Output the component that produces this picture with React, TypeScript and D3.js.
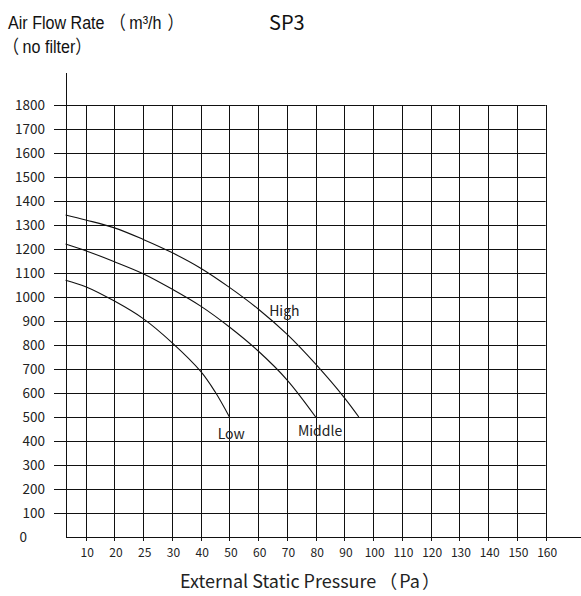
import React from "react";
import * as d3 from "d3";

const xTickLabels = [10, 20, 25, 30, 40, 50, 60, 70, 80, 90, 100, 110, 120, 130, 140, 150, 160];
const yTickValues = [0, 100, 200, 300, 400, 500, 600, 700, 800, 900, 1000, 1100, 1200, 1300, 1400, 1500, 1600, 1700, 1800];

const lowPressure = [3, 10, 20, 25, 30, 40, 45, 50];
const lowFlow = [1070, 1043, 983, 910, 810, 690, 605, 500];

const middlePressure = [3, 10, 20, 25, 30, 40, 50, 60, 70, 80];
const middleFlow = [1221, 1193, 1147, 1097, 1033, 962, 875, 775, 655, 500];

const highPressure = [3, 10, 20, 25, 30, 40, 50, 60, 70, 80, 90, 95];
const highFlow = [1342, 1321, 1288, 1240, 1185, 1120, 1040, 950, 845, 720, 580, 500];

const curveLabels = [
  { name: "High", p: 63.8, v: 921 },
  { name: "Middle", p: 73.8, v: 421 },
  { name: "Low", p: 45.9, v: 408 },
];

const W = 581;
const H = 596;
const axisX = 66;
const gridLeft = 54;
const yTop = 105;
const yBottom = 537;
const firstGridX = 85.7;
const lastGridX = 545.7;

export default function App() {
  const idx = d3.scaleLinear().domain([0, xTickLabels.length - 1]).range([firstGridX, lastGridX]);
  const x = d3
    .scaleLinear()
    .domain(xTickLabels)
    .range(xTickLabels.map((_, i) => idx(i)));
  const y = d3.scaleLinear().domain([0, 1800]).range([yBottom, yTop]);

  const line = d3
    .line<[number, number]>()
    .x((d) => x(d[0]))
    .y((d) => y(d[1]))
    .curve(d3.curveCatmullRom.alpha(0.5));

  const series = [
    { p: lowPressure, v: lowFlow },
    { p: middlePressure, v: middleFlow },
    { p: highPressure, v: highFlow },
  ];

  const tickFont = "'Noto Sans CJK SC', 'Open Sans', sans-serif";
  const narrowFont = "'Liberation Sans', Arial, 'Noto Sans CJK SC', sans-serif";
  const stroke = "#111";

  return (
    <svg
      width={W}
      height={H}
      style={{ position: "absolute", left: 0, top: 0, background: "#fff" }}
    >
      <rect x={0} y={0} width={W} height={H} fill="#fff" />
      {yTickValues
        .filter((v) => v > 0)
        .map((v) => (
          <line
            key={"h" + v}
            x1={gridLeft}
            x2={lastGridX}
            y1={Math.round(y(v)) + 0.5}
            y2={Math.round(y(v)) + 0.5}
            stroke={stroke}
            strokeWidth={1}
          />
        ))}
      {xTickLabels.map((t) => (
        <line
          key={"v" + t}
          x1={Math.round(x(t)) + 0.5}
          x2={Math.round(x(t)) + 0.5}
          y1={yTop}
          y2={yBottom + 4}
          stroke={stroke}
          strokeWidth={1}
        />
      ))}
      <line x1={axisX + 0.5} x2={axisX + 0.5} y1={73} y2={yBottom} stroke={stroke} strokeWidth={1} />
      <line x1={axisX} x2={W} y1={yBottom + 0.5} y2={yBottom + 0.5} stroke={stroke} strokeWidth={1} />

      {yTickValues.map((v) => (
        <text
          key={"yl" + v}
          x={v === 0 ? 27 : 45}
          y={y(v)}
          dy="0.35em"
          textAnchor="end"
          fontFamily={tickFont}
          fontSize={13.5}
          fill="#222"
        >
          {v}
        </text>
      ))}
      {xTickLabels.map((t) => (
        <text
          key={"xl" + t}
          x={x(t) + 1.5}
          y={557}
          textAnchor="middle"
          fontFamily={tickFont}
          fontSize={12}
          fill="#222"
        >
          {t}
        </text>
      ))}

      {series.map((s, i) => (
        <path
          key={"c" + i}
          d={line(s.p.map((p, j) => [p, s.v[j]] as [number, number])) || ""}
          fill="none"
          stroke="#111"
          strokeWidth={1.1}
        />
      ))}
      {curveLabels.map((c) => (
        <text
          key={c.name}
          x={x(c.p)}
          y={y(c.v)}
          fontFamily={tickFont}
          fontSize={14}
          fill="#222"
        >
          {c.name}
        </text>
      ))}

      <text
        transform="translate(8,29) scale(0.87,1)"
        fontFamily={narrowFont}
        fontSize={18.5}
        fill="#111"
      >
        Air Flow Rate<tspan dx={6}>（</tspan>
        <tspan dx={4}>m³/h</tspan>
        <tspan dx={7}>）</tspan>
      </text>
      <text
        transform="translate(3,53) scale(0.87,1)"
        fontFamily={narrowFont}
        fontSize={18.5}
        fill="#111"
      >
        （<tspan dx={4}>no filter</tspan>）
      </text>
      <text x={269} y={29.5} fontFamily={tickFont} fontSize={20} fill="#111">
        SP3
      </text>
      <text x={180} y={588} fontFamily={tickFont} fontSize={18} fill="#222">
        External Static Pressure<tspan dx={3}>（</tspan>
        <tspan dx={2}>Pa</tspan>
        <tspan dx={2}>）</tspan>
      </text>
    </svg>
  );
}
